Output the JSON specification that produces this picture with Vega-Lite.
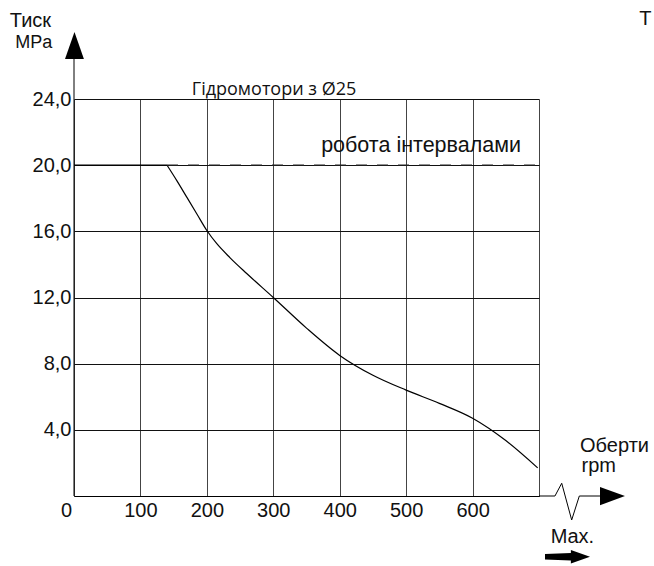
{
  "$schema": "https://vega.github.io/schema/vega-lite/v6.json",
  "width": 465,
  "height": 397,
  "autosize": {"type": "none"},
  "padding": {"left": 74, "top": 99, "right": 115, "bottom": 70},
  "background": "white",
  "config": {"view": {"stroke": null}, "font": "Liberation Sans"},
  "datasets": {
    "curve": [
      {"rpm": 140, "p": 20}, {"rpm": 155, "p": 19.05}, {"rpm": 170, "p": 18.05}, {"rpm": 185, "p": 17.05},
      {"rpm": 200, "p": 16.05}, {"rpm": 215, "p": 15.25}, {"rpm": 235, "p": 14.4}, {"rpm": 260, "p": 13.45},
      {"rpm": 300, "p": 12}, {"rpm": 350, "p": 10.15}, {"rpm": 400, "p": 8.5},
      {"rpm": 450, "p": 7.3}, {"rpm": 500, "p": 6.4}, {"rpm": 550, "p": 5.6},
      {"rpm": 600, "p": 4.7}, {"rpm": 650, "p": 3.35}, {"rpm": 698, "p": 1.7}
    ],
    "flat": [{"rpm": 0, "p": 20}, {"rpm": 140, "p": 20}],
    "dashed": [{"rpm": 140, "p": 20}, {"rpm": 700, "p": 20}],
    "xext": [
      {"rpm": 700, "p": 0}, {"rpm": 724, "p": 0}, {"rpm": 734.2, "p": 0.77},
      {"rpm": 749.2, "p": -1.45}, {"rpm": 760.7, "p": 0}, {"rpm": 792, "p": 0}
    ],
    "yaxis": [{"rpm": 0, "p": 0, "p2": 26.5}],
    "arrows": [
      {"kind": "y", "rpm": 0.7, "p": 27.23},
      {"kind": "x", "rpm": 810.6, "p": 0},
      {"kind": "max", "rpm": 742.9, "p": -3.67}
    ],
    "texts": [
      {"kind": "title", "rpm": 301.1, "p": 24.24, "t": "Гідромотори з Ø25"},
      {"kind": "note", "rpm": 672.9, "p": 20.81, "t": "робота інтервалами"},
      {"kind": "big", "rpm": -65.5, "p": 28.37, "t": "Тиск"},
      {"kind": "mid", "rpm": -60.5, "p": 27.1, "t": "MPa"},
      {"kind": "big", "rpm": 813.7, "p": 2.68, "t": "Оберти"},
      {"kind": "big", "rpm": 790, "p": 1.47, "t": "rpm"},
      {"kind": "big", "rpm": 750.4, "p": -2.86, "t": "Max."},
      {"kind": "edge", "rpm": 851, "p": 28.47, "t": "T"}
    ]
  },
  "encoding": {
    "x": {
      "field": "rpm", "type": "quantitative",
      "scale": {"domain": [0, 700], "nice": false, "zero": false},
      "axis": {
        "title": null, "values": [0, 100, 200, 300, 400, 500, 600, 700],
        "grid": true, "gridColor": "#444", "gridWidth": 1,
        "ticks": false, "tickSize": 0, "domain": true, "domainColor": "#000", "domainWidth": 1,
        "labelFont": "Liberation Sans", "labelFontSize": 20, "labelColor": "#111",
        "labelPadding": 4, "labelOverlap": false, "labelFlush": false,
        "labelExpr": "datum.value == 700 ? '' : datum.label",
        "labelOffset": {"condition": {"test": "datum.value == 0", "value": -8}, "value": 0}
      }
    },
    "y": {
      "field": "p", "type": "quantitative",
      "scale": {"domain": [0, 24], "nice": false, "zero": false},
      "axis": {
        "title": null, "values": [0, 4, 8, 12, 16, 20, 24],
        "grid": true, "gridColor": "#111", "gridWidth": 1,
        "ticks": false, "tickSize": 0, "domain": false,
        "labelFont": "Liberation Sans", "labelFontSize": 20, "labelColor": "#111",
        "labelPadding": 3, "labelOverlap": false,
        "labelExpr": "datum.value == 0 ? '' : replace(format(datum.value, '.1f'), '.', ',')"
      }
    }
  },
  "layer": [
    {
      "data": {"name": "curve"},
      "mark": {"type": "line", "color": "#000", "strokeWidth": 1.2, "interpolate": "monotone", "clip": false}
    },
    {
      "data": {"name": "flat"},
      "mark": {"type": "line", "color": "#000", "strokeWidth": 1.2, "clip": false}
    },
    {
      "data": {"name": "dashed"},
      "mark": {"type": "line", "color": "#222", "strokeWidth": 1.3, "strokeDash": [11, 10], "clip": false}
    },
    {
      "data": {"name": "xext"},
      "mark": {"type": "line", "color": "#000", "strokeWidth": 1, "clip": false}
    },
    {
      "data": {"name": "yaxis"},
      "mark": {"type": "rule", "color": "#000", "strokeWidth": 1, "clip": false},
      "encoding": {"y2": {"field": "p2"}}
    },
    {
      "data": {"name": "arrows"},
      "transform": [{"filter": "datum.kind == 'y'"}],
      "mark": {"type": "point", "shape": "M0,-1L0.7,1L-0.7,1Z", "size": 729, "filled": true, "color": "#000", "opacity": 1, "strokeWidth": 0, "clip": false}
    },
    {
      "data": {"name": "arrows"},
      "transform": [{"filter": "datum.kind == 'x'"}],
      "mark": {"type": "point", "shape": "M-1,-0.73L1,0L-1,0.73Z", "size": 625, "filled": true, "color": "#000", "opacity": 1, "strokeWidth": 0, "clip": false}
    },
    {
      "data": {"name": "arrows"},
      "transform": [{"filter": "datum.kind == 'max'"}],
      "mark": {"type": "point", "shape": "M-1,-0.12L0.15,-0.17L0.15,-0.3L1,0L0.15,0.3L0.15,0.17L-1,0.12Z", "size": 2025, "filled": true, "color": "#000", "opacity": 1, "strokeWidth": 0, "clip": false}
    },
    {
      "data": {"name": "texts"},
      "transform": [{"filter": "datum.kind == 'title'"}],
      "mark": {"type": "text", "font": "Open Sans", "fontSize": 18, "align": "center", "baseline": "alphabetic", "color": "#111", "clip": false},
      "encoding": {"text": {"field": "t"}}
    },
    {
      "data": {"name": "texts"},
      "transform": [{"filter": "datum.kind == 'note'"}],
      "mark": {"type": "text", "font": "Liberation Sans", "fontSize": 21.5, "align": "right", "baseline": "alphabetic", "color": "#111", "clip": false},
      "encoding": {"text": {"field": "t"}}
    },
    {
      "data": {"name": "texts"},
      "transform": [{"filter": "datum.kind == 'big'"}],
      "mark": {"type": "text", "font": "Liberation Sans", "fontSize": 20, "align": "center", "baseline": "alphabetic", "color": "#111", "clip": false},
      "encoding": {"text": {"field": "t"}}
    },
    {
      "data": {"name": "texts"},
      "transform": [{"filter": "datum.kind == 'mid'"}],
      "mark": {"type": "text", "font": "Liberation Sans", "fontSize": 18, "align": "center", "baseline": "alphabetic", "color": "#111", "clip": false},
      "encoding": {"text": {"field": "t"}}
    },
    {
      "data": {"name": "texts"},
      "transform": [{"filter": "datum.kind == 'edge'"}],
      "mark": {"type": "text", "font": "Liberation Sans", "fontSize": 20, "align": "left", "baseline": "alphabetic", "color": "#111", "clip": false},
      "encoding": {"text": {"field": "t"}}
    }
  ]
}
